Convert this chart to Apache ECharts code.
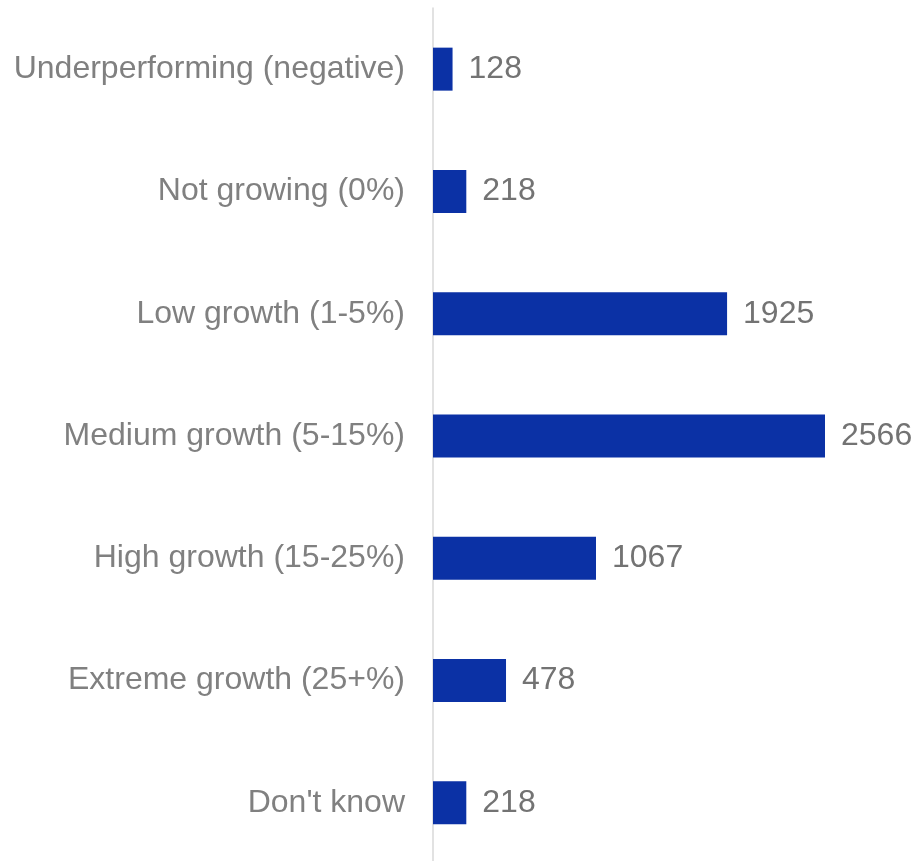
<!DOCTYPE html>
<html>
<head>
<meta charset="utf-8">
<script src="https://cdn.jsdelivr.net/npm/echarts@6/dist/echarts.min.js"></script>
<style>
  html, body { margin: 0; padding: 0; background: #ffffff; overflow: hidden; }
  #chart { width: 917px; height: 870px; }
</style>
</head>
<body>
<div id="chart"></div>
<script>
// Growth expectation buckets, listed top to bottom
const categories = [
  'Underperforming (negative)',
  'Not growing (0%)',
  'Low growth (1-5%)',
  'Medium growth (5-15%)',
  'High growth (15-25%)',
  'Extreme growth (25+%)',
  "Don't know"
];
const counts = [128, 218, 1925, 2566, 1067, 478, 218];

const chart = echarts.init(document.getElementById('chart'));
chart.setOption({
  animation: false,
  grid: { left: 433, right: 92, top: 8, bottom: 6, containLabel: false },
  xAxis: {
    type: 'value',
    min: 0,
    max: 2566,
    show: false
  },
  yAxis: {
    type: 'category',
    inverse: true,
    data: categories,
    axisLine: { show: true, lineStyle: { color: '#d9d9d9', width: 1.5 } },
    axisTick: { show: false },
    axisLabel: {
      margin: 28,
      color: '#808080',
      fontFamily: 'Liberation Sans, Arial, sans-serif',
      fontSize: 32
    }
  },
  series: [{
    type: 'bar',
    data: counts,
    barWidth: 43,
    itemStyle: { color: '#0b31a5' },
    label: {
      show: true,
      position: 'right',
      distance: 16,
      color: '#737373',
      fontFamily: 'Liberation Sans, Arial, sans-serif',
      fontSize: 32
    }
  }]
});
</script>
</body>
</html>
